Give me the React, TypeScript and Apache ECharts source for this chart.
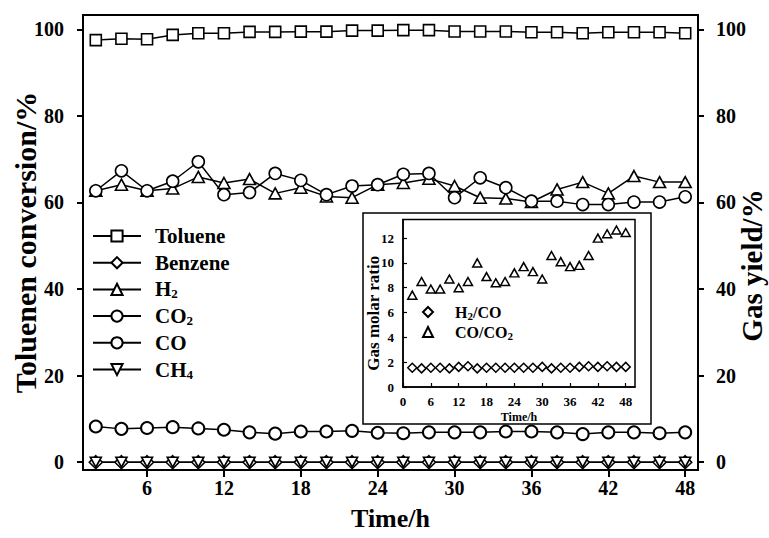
import React, { useEffect, useRef } from 'react';
import * as echarts from 'echarts';

const FONT = '"Liberation Serif", "Times New Roman", serif';

const time = [2, 4, 6, 8, 10, 12, 14, 16, 18, 20, 22, 24, 26, 28, 30, 32, 34, 36, 38, 40, 42, 44, 46, 48];
const toluene = [97.5, 97.8, 97.7, 98.7, 99.1, 99.1, 99.4, 99.4, 99.45, 99.45, 99.7, 99.7, 99.8, 99.8, 99.5, 99.5, 99.5, 99.3, 99.3, 99.1, 99.3, 99.3, 99.3, 99.1];
const benzene = [0, 0, 0, 0, 0, 0, 0, 0, 0, 0, 0, 0, 0, 0, 0, 0, 0, 0, 0, 0, 0, 0, 0, 0];
const h2 = [62.7, 64.1, 62.7, 63.2, 65.9, 64.5, 65.4, 62.1, 63.4, 61.4, 61.1, 64.1, 64.5, 65.5, 63.8, 61.1, 60.9, 60.1, 63.0, 64.7, 62.1, 66.1, 64.7, 64.7];
const co2 = [8.25, 7.7, 7.9, 8.1, 7.8, 7.5, 6.9, 6.6, 7.1, 7.1, 7.25, 6.8, 6.7, 6.9, 6.9, 6.9, 7.1, 7.1, 6.9, 6.5, 6.9, 6.9, 6.7, 6.9];
const co = [62.7, 67.3, 62.7, 64.9, 69.4, 61.8, 62.3, 66.7, 65.1, 61.8, 63.8, 64.1, 66.5, 66.7, 61.1, 65.7, 63.4, 60.3, 60.3, 59.5, 59.5, 60.1, 60.1, 61.3];
const ch4 = [0, 0, 0, 0, 0, 0, 0, 0, 0, 0, 0, 0, 0, 0, 0, 0, 0, 0, 0, 0, 0, 0, 0, 0];
const h2co = [1.55, 1.5, 1.55, 1.55, 1.5, 1.62, 1.67, 1.5, 1.55, 1.55, 1.55, 1.55, 1.55, 1.55, 1.62, 1.5, 1.55, 1.55, 1.62, 1.67, 1.62, 1.67, 1.62, 1.62];
const coco2 = [7.4, 8.5, 7.9, 7.9, 8.7, 8.0, 8.5, 10.0, 8.9, 8.4, 8.5, 9.2, 9.7, 9.3, 8.7, 10.6, 10.1, 9.7, 9.8, 10.6, 12.0, 12.35, 12.65, 12.45];

const mainXTicks = [6, 12, 18, 24, 30, 36, 42, 48];
const mainYTicks = [0, 20, 40, 60, 80, 100];
const insetXTicks = [0, 6, 12, 18, 24, 30, 36, 42, 48];
const insetYTicks = [0, 2, 4, 6, 8, 10, 12];

const legendLabels: Record<string, string> = {
  Toluene: 'Toluene',
  Benzene: 'Benzene',
  H2: 'H{s|2}',
  CO2: 'CO{s|2}',
  CO: 'CO',
  CH4: 'CH{s|4}',
  'H2/CO': 'H{t|2}/CO',
  'CO/CO2': 'CO/CO{t|2}',
};

const pairs = (arr: number[]) => time.map((t, i) => [t, arr[i]]);

const txt = (size: number) => ({ fontFamily: FONT, fontWeight: 'bold' as const, fontSize: size, color: '#000' });

export default function App() {
  const ref = useRef<HTMLDivElement>(null);
  useEffect(() => {
    if (!ref.current) return;
    const chart = echarts.init(ref.current, undefined, { renderer: 'svg' });
    const lineSeries = (name: string, data: number[], symbol: string, size: any, yAxisIndex: number, extra: any = {}) => ({
      name,
      type: 'line',
      xAxisIndex: 0,
      yAxisIndex,
      data: pairs(data),
      symbol,
      symbolSize: size,
      showAllSymbol: true,
      lineStyle: { color: '#000', width: 1.5 },
      itemStyle: { color: '#fff', borderColor: '#000', borderWidth: 1.6 },
      emphasis: { disabled: true },
      ...extra,
    });
    const axisLineStyle = { lineStyle: { color: '#000', width: 2 } };
    chart.setOption({
      animation: false,
      backgroundColor: '#fff',
      grid: [
        { left: 83, right: 71, top: 15, bottom: 68, show: true, borderColor: '#000', borderWidth: 2, containLabel: false, outerBoundsMode: 'none' },
        { left: 403, top: 219.5, width: 232, height: 167.5, show: true, borderColor: '#000', borderWidth: 1.5, containLabel: false, outerBoundsMode: 'none' },
      ],
      xAxis: [
        {
          type: 'value', gridIndex: 0, min: 1, max: 49,
          name: 'Time/h', nameLocation: 'middle', nameGap: 35, nameMoveOverlap: false, nameTextStyle: txt(26),
          axisLine: { onZero: false, ...axisLineStyle },
          axisTick: { inside: false, length: 7, lineStyle: { color: '#000', width: 2 }, customValues: mainXTicks },
          axisLabel: { ...txt(20), margin: 8, customValues: mainXTicks },
          splitLine: { show: false },
        },
        {
          type: 'value', gridIndex: 1, min: 0, max: 50,
          name: 'Time/h', nameLocation: 'middle', nameGap: 24, nameMoveOverlap: false,
          nameTextStyle: { ...txt(12), lineHeight: 12 },
          axisLine: { onZero: false, lineStyle: { color: '#000', width: 1.5 } },
          axisTick: { inside: true, length: 4, lineStyle: { color: '#000', width: 1.2 }, customValues: insetXTicks },
          axisLabel: { ...txt(13), lineHeight: 12, margin: 8, customValues: insetXTicks },
          splitLine: { show: false },
        },
      ],
      yAxis: [
        {
          type: 'value', gridIndex: 0, position: 'left', min: -1.8, max: 103.3,
          name: 'Toluenen conversion/%', nameLocation: 'middle', nameRotate: 90, nameGap: 43, nameMoveOverlap: false,
          nameTextStyle: txt(30),
          axisLine: { show: true, onZero: false, ...axisLineStyle },
          axisTick: { show: true, inside: false, length: 6, lineStyle: { color: '#000', width: 2 }, customValues: mainYTicks },
          axisLabel: { ...txt(20), margin: 19, customValues: mainYTicks },
          splitLine: { show: false },
        },
        {
          type: 'value', gridIndex: 0, position: 'right', min: -1.8, max: 103.3,
          name: 'Gas yield/%', nameLocation: 'middle', nameRotate: 90, nameGap: 40, nameMoveOverlap: false,
          nameTextStyle: { ...txt(29), lineHeight: 28, padding: [0, 46, 0, 0] },
          axisLine: { show: true, onZero: false, ...axisLineStyle },
          axisTick: { show: true, inside: false, length: 6, lineStyle: { color: '#000', width: 2 }, customValues: mainYTicks },
          axisLabel: { ...txt(20), margin: 18, customValues: mainYTicks },
          splitLine: { show: false },
        },
        {
          type: 'value', gridIndex: 1, min: 0, max: 13.5,
          name: 'Gas molar ratio', nameLocation: 'middle', nameRotate: 90, nameGap: 21, nameMoveOverlap: false,
          nameTextStyle: { ...txt(17), padding: [0, 20, 0, 0] },
          axisLine: { show: true, onZero: false, lineStyle: { color: '#000', width: 1.5 } },
          axisTick: { show: true, inside: true, length: 4, lineStyle: { color: '#000', width: 1.2 }, customValues: insetYTicks },
          axisLabel: { ...txt(13), margin: 9, customValues: insetYTicks },
          splitLine: { show: false },
        },
      ],
      legend: [
        {
          data: ['Toluene', 'Benzene', 'H2', 'CO2', 'CO', 'CH4'],
          orient: 'vertical', left: 92, top: 225, padding: 0,
          itemWidth: 48, itemHeight: 14, itemGap: 4.7,
          selectedMode: false,
          formatter: (n: string) => legendLabels[n],
          textStyle: {
            ...txt(21), lineHeight: 22, padding: [0, 0, 0, 9],
            rich: { s: { fontFamily: FONT, fontWeight: 'bold', fontSize: 13, color: '#000', lineHeight: 14, verticalAlign: 'bottom' } },
          },
        },
        {
          data: ['H2/CO', 'CO/CO2'],
          orient: 'vertical', left: 422, top: 303, padding: 0,
          itemWidth: 10, itemHeight: 10, itemGap: 2,
          selectedMode: false,
          formatter: (n: string) => legendLabels[n],
          textStyle: {
            ...txt(16), lineHeight: 18, padding: [0, 0, 0, 17],
            rich: { t: { fontFamily: FONT, fontWeight: 'bold', fontSize: 11, color: '#000', lineHeight: 12, verticalAlign: 'bottom' } },
          },
        },
      ],
      graphic: [
        {
          type: 'rect',
          shape: { x: 363, y: 213, width: 288, height: 211 },
          style: { fill: 'none', stroke: '#000', lineWidth: 1.5 },
          silent: true,
        },
      ],
      series: [
        lineSeries('Toluene', toluene, 'rect', 11, 0),
        lineSeries('Benzene', benzene, 'diamond', 13, 0),
        lineSeries('H2', h2, 'triangle', [12, 11], 1),
        lineSeries('CO2', co2, 'circle', 12, 1, { itemStyle: { color: '#fff', borderColor: '#000', borderWidth: 2 } }),
        lineSeries('CO', co, 'circle', 12, 1),
        lineSeries('CH4', ch4, 'triangle', [11, 10], 1, { symbolRotate: 180 }),
        {
          name: 'H2/CO', type: 'scatter', xAxisIndex: 1, yAxisIndex: 2, data: pairs(h2co),
          symbol: 'diamond', symbolSize: 9,
          itemStyle: { color: '#fff', borderColor: '#000', borderWidth: 1.5, opacity: 1 },
          emphasis: { disabled: true },
        },
        {
          name: 'CO/CO2', type: 'scatter', xAxisIndex: 1, yAxisIndex: 2, data: pairs(coco2),
          symbol: 'triangle', symbolSize: [9, 8],
          itemStyle: { color: '#fff', borderColor: '#000', borderWidth: 1.5, opacity: 1 },
          emphasis: { disabled: true },
        },
      ],
    });
    return () => chart.dispose();
  }, []);
  return <div ref={ref} style={{ width: 769, height: 538, position: 'absolute', left: 0, top: 0 }} />;
}
